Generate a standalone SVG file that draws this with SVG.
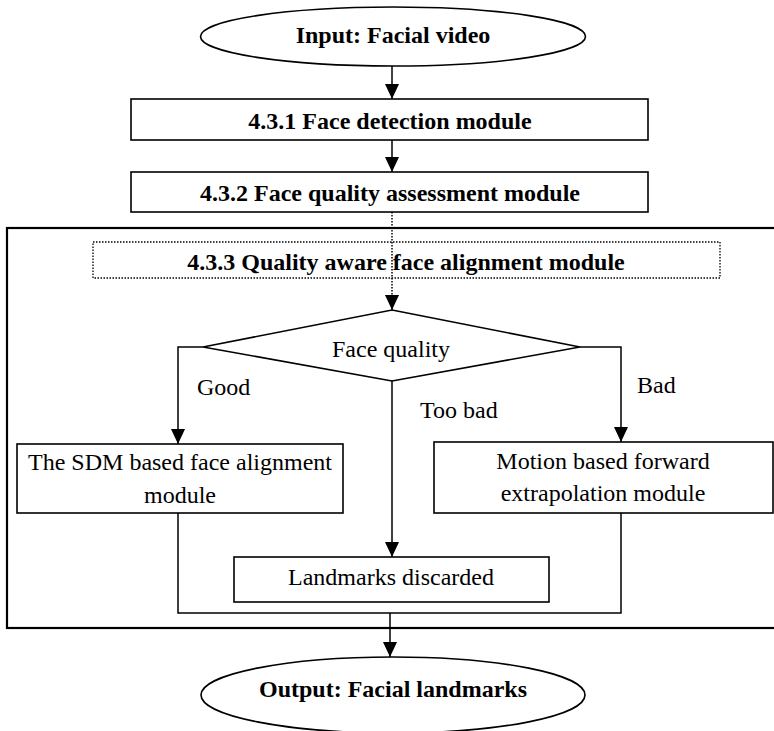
<svg xmlns="http://www.w3.org/2000/svg" width="774" height="731" viewBox="0 0 774 731">
<style>
  .bg { fill: #ffffff; }
  .shape { fill: #ffffff; stroke: #000000; stroke-width: 1.6; }
  .dotted { fill: none; stroke: #000000; stroke-width: 1.3; stroke-dasharray: 1.5 1.5; }
  .frame { fill: none; stroke: #000000; stroke-width: 2.2; }
  .conn { fill: none; stroke: #000000; stroke-width: 1.5; }
  .dotconn { fill: none; stroke: #000000; stroke-width: 1.5; stroke-dasharray: 1.5 1.5; }
  .tb { font-family: "Liberation Serif", "Times New Roman", serif; font-weight: bold; font-size: 24px; fill: #000000; text-anchor: middle; }
  .t { font-family: "Liberation Serif", "Times New Roman", serif; font-size: 24px; fill: #000000; text-anchor: middle; }
  .lbl { font-family: "Liberation Serif", "Times New Roman", serif; font-size: 24px; fill: #000000; }
</style>
<defs>
  <marker id="arrow" markerUnits="userSpaceOnUse" markerWidth="15" markerHeight="14" refX="15" refY="7" orient="auto" viewBox="0 0 15 14">
    <path d="M0,0 L15,7 L0,14 z" fill="#000000"/>
  </marker>
</defs>
<rect class="bg" x="0" y="0" width="774" height="731"/>

<g id="frame">
  <rect class="frame" x="7" y="228" width="775" height="400"/>
</g>

<g id="connectors">
  <line class="conn" x1="392" y1="66" x2="392" y2="99" marker-end="url(#arrow)"/>
  <line class="conn" x1="392" y1="140" x2="392" y2="172" marker-end="url(#arrow)"/>
  <line class="dotconn" x1="392" y1="212" x2="392" y2="310" marker-end="url(#arrow)"/>
  <polyline class="conn" points="203,347 178,347 178,444" marker-end="url(#arrow)"/>
  <polyline class="conn" points="580,347 621,347 621,442" marker-end="url(#arrow)"/>
  <line class="conn" x1="392" y1="381" x2="392" y2="557" marker-end="url(#arrow)"/>
  <polyline class="conn" points="178,513 178,613 621,613 621,513"/>
  <line class="conn" x1="390" y1="613" x2="390" y2="657" marker-end="url(#arrow)"/>
</g>

<g id="input">
  <ellipse class="shape" cx="393" cy="36.5" rx="192.5" ry="29.5"/>
  <text class="tb" x="393" y="43">Input: Facial video</text>
</g>

<g id="face-detection">
  <rect class="shape" x="131" y="99" width="517" height="41"/>
  <text class="tb" x="390" y="129">4.3.1 Face detection module</text>
</g>

<g id="face-quality-assessment">
  <rect class="shape" x="131" y="172" width="517" height="40"/>
  <text class="tb" x="390" y="201">4.3.2 Face quality assessment module</text>
</g>

<g id="quality-aware-alignment">
  <rect class="dotted" x="93" y="242" width="627" height="36"/>
  <text class="tb" x="406" y="270">4.3.3 Quality aware face alignment module</text>
</g>

<g id="face-quality">
  <polygon class="shape" points="392,310 580,347 392,381 203,347"/>
  <text class="t" x="391" y="357">Face quality</text>
</g>

<g id="labels">
  <text class="lbl" x="197" y="395">Good</text>
  <text class="lbl" x="420" y="418">Too bad</text>
  <text class="lbl" x="637" y="393">Bad</text>
</g>

<g id="sdm-alignment">
  <rect class="shape" x="17" y="444" width="326" height="69"/>
  <text class="t" x="180" y="470">The SDM based face alignment</text>
  <text class="t" x="180" y="503">module</text>
</g>

<g id="motion-extrapolation">
  <rect class="shape" x="434" y="442" width="339" height="71"/>
  <text class="t" x="603" y="469">Motion based forward</text>
  <text class="t" x="603" y="501">extrapolation module</text>
</g>

<g id="landmarks-discarded">
  <rect class="shape" x="234" y="557" width="315" height="45"/>
  <text class="t" x="391" y="585">Landmarks discarded</text>
</g>

<g id="output">
  <ellipse class="shape" cx="393" cy="695" rx="192" ry="38"/>
  <text class="tb" x="393" y="697">Output: Facial landmarks</text>
</g>
</svg>
